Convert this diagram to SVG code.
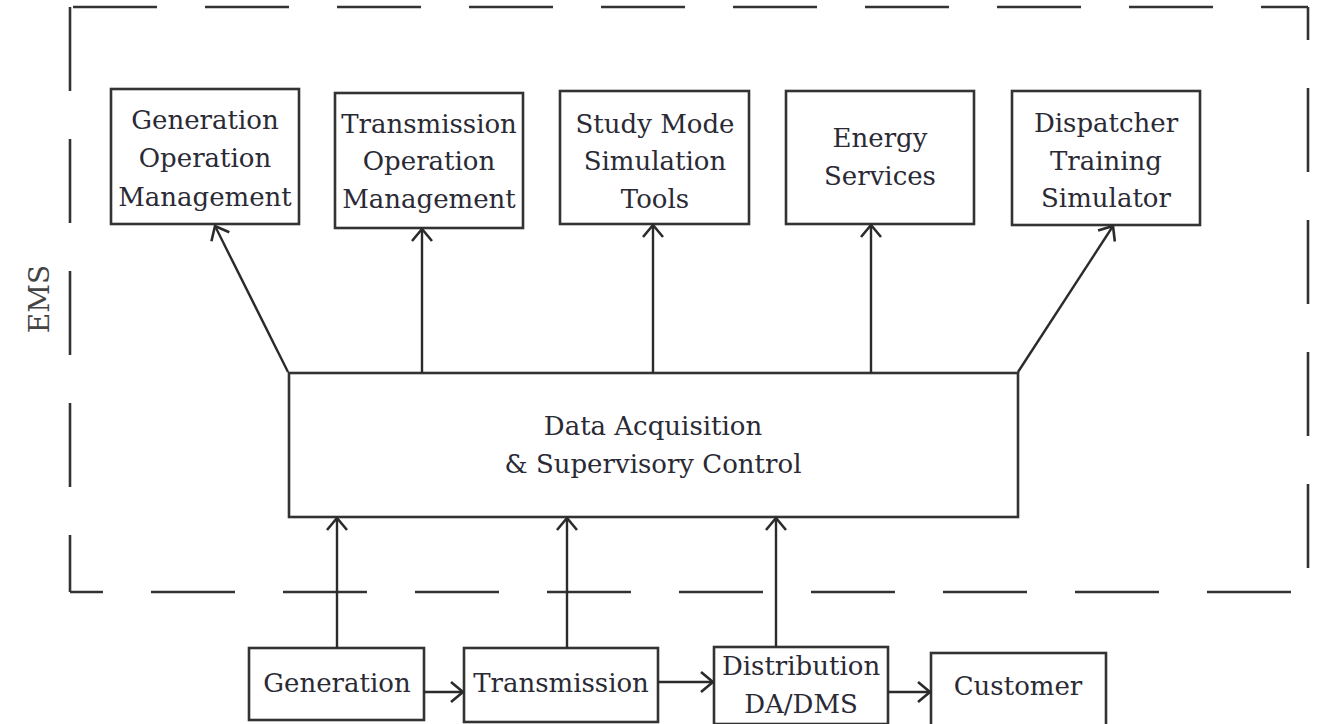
<svg xmlns="http://www.w3.org/2000/svg" width="1317" height="724" viewBox="0 0 1317 724">
<style>
.box{fill:#fff;stroke:#333;stroke-width:2.6}
.dash{fill:none;stroke:#333;stroke-width:2.6;stroke-dasharray:84 48}
.con{fill:none;stroke:#2b2b2b;stroke-width:2.4}
.t{font-family:"DejaVu Serif","Liberation Serif",serif;font-size:26px;fill:#2a2a35;text-anchor:middle}
</style>
<defs>
<marker id="ah" markerUnits="userSpaceOnUse" markerWidth="30" markerHeight="30" viewBox="-15 -15 30 30" refX="0" refY="0" orient="auto">
<path d="M-12,-10 L0,0 L-12,10" fill="none" stroke="#2b2b2b" stroke-width="2.6"/>
</marker>
</defs>
<rect width="1317" height="724" fill="#fff"/>
<g id="ems-boundary">
<line class="dash" x1="70" y1="7" x2="1308" y2="7" stroke-dashoffset="129"/>
<line class="dash" x1="70" y1="7" x2="70" y2="592"/>
<line class="dash" x1="1308" y1="7" x2="1308" y2="592" stroke-dashoffset="51"/>
<line class="dash" x1="70" y1="592" x2="1308" y2="592" stroke-dashoffset="51"/>
<text class="t" transform="translate(49,299) rotate(-90)" style="font-size:28px;fill:#444">EMS</text>
</g>
<g id="gen-op">
<rect class="box" x="111" y="89" width="188" height="135"/>
<text class="t" x="205" y="129">Generation</text>
<text class="t" x="205" y="167">Operation</text>
<text class="t" x="205" y="206">Management</text>
</g>
<g id="trans-op">
<rect class="box" x="335" y="93" width="188" height="135"/>
<text class="t" x="429" y="133">Transmission</text>
<text class="t" x="429" y="170">Operation</text>
<text class="t" x="429" y="208">Management</text>
</g>
<g id="study">
<rect class="box" x="560" y="91" width="189" height="133"/>
<text class="t" x="655" y="133">Study Mode</text>
<text class="t" x="655" y="170">Simulation</text>
<text class="t" x="655" y="208">Tools</text>
</g>
<g id="energy">
<rect class="box" x="786" y="91" width="188" height="133"/>
<text class="t" x="880" y="147">Energy</text>
<text class="t" x="880" y="185">Services</text>
</g>
<g id="dispatcher">
<rect class="box" x="1012" y="91" width="188" height="134"/>
<text class="t" x="1106" y="132">Dispatcher</text>
<text class="t" x="1106" y="170">Training</text>
<text class="t" x="1106" y="207">Simulator</text>
</g>
<g id="dasc">
<rect class="box" x="289" y="373" width="729" height="144"/>
<text class="t" x="653" y="435">Data Acquisition</text>
<text class="t" x="653" y="473">&amp; Supervisory Control</text>
</g>
<g id="generation">
<rect class="box" x="249" y="648" width="175" height="72"/>
<text class="t" x="337" y="692">Generation</text>
</g>
<g id="transmission">
<rect class="box" x="464" y="648" width="194" height="74"/>
<text class="t" x="561" y="692">Transmission</text>
</g>
<g id="distribution">
<rect class="box" x="714" y="647" width="174" height="77"/>
<text class="t" x="801" y="675">Distribution</text>
<text class="t" x="801" y="713">DA/DMS</text>
</g>
<g id="customer">
<rect class="box" x="931" y="653" width="175" height="74"/>
<text class="t" x="1018" y="695">Customer</text>
</g>
<g id="connectors">
<line class="con" x1="288" y1="372" x2="215" y2="226" marker-end="url(#ah)"/>
<line class="con" x1="422" y1="373" x2="422" y2="229" marker-end="url(#ah)"/>
<line class="con" x1="653" y1="373" x2="653" y2="225" marker-end="url(#ah)"/>
<line class="con" x1="871" y1="373" x2="871" y2="225" marker-end="url(#ah)"/>
<line class="con" x1="1018" y1="372" x2="1113" y2="226" marker-end="url(#ah)"/>
<line class="con" x1="337" y1="648" x2="337" y2="518" marker-end="url(#ah)"/>
<line class="con" x1="567" y1="648" x2="567" y2="518" marker-end="url(#ah)"/>
<line class="con" x1="776" y1="647" x2="776" y2="518" marker-end="url(#ah)"/>
<line class="con" x1="424" y1="692" x2="463" y2="692" marker-end="url(#ah)"/>
<line class="con" x1="658" y1="682" x2="713" y2="682" marker-end="url(#ah)"/>
<line class="con" x1="888" y1="692" x2="930" y2="692" marker-end="url(#ah)"/>
</g>
</svg>
